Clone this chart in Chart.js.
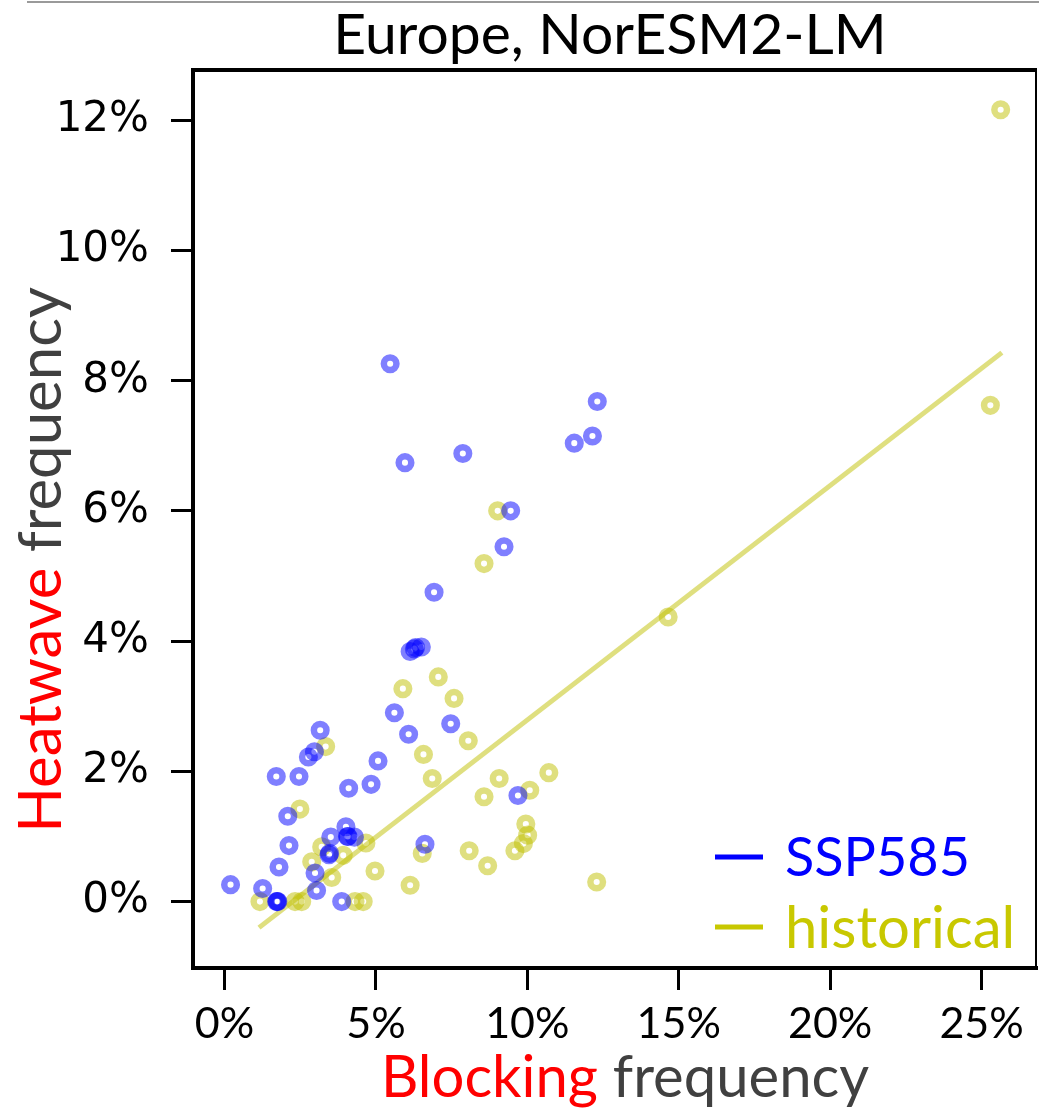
<!DOCTYPE html>
<html>
<head>
<meta charset="utf-8">
<script src="https://cdn.jsdelivr.net/npm/chart.js@4/dist/chart.umd.min.js"></script>
<style>
body { margin: 0; background: #fff; }
</style>
</head>
<body>
<canvas id="chart" width="1039" height="1113"></canvas>
<script>
// blocking frequency (%) against heatwave frequency (%), one point per summer
const ssp585X = [0.20, 1.26, 1.72, 1.74, 1.76, 1.80, 1.71, 2.09, 2.13, 2.46, 2.77, 2.97, 3.16, 2.99, 3.04,
	3.45, 3.47, 3.51, 3.87, 4.01, 4.10, 4.06, 4.08, 4.29, 4.84, 5.07, 5.61, 5.47, 6.08, 5.96, 6.13, 6.27, 6.31,
	6.50, 6.62, 6.92, 7.47, 7.87, 9.23, 9.45, 9.69, 11.55, 12.15, 12.31];
const ssp585Y = [0.26, 0.20, 0.00, 0.00, 0.00, 0.53, 1.92, 1.31, 0.86, 1.92, 2.22, 2.30, 2.63, 0.44, 0.17,
	0.72, 0.74, 0.99, 0.00, 1.15, 1.74, 1.00, 1.00, 0.99, 1.80, 2.16, 2.90, 8.26, 2.57, 6.74, 3.84, 3.88, 3.90,
	3.91, 0.88, 4.75, 2.73, 6.88, 5.45, 6.00, 1.63, 7.04, 7.15, 7.68];

const historicalX = [1.17, 2.33, 2.55, 2.49, 3.34, 2.88, 3.21, 3.54, 3.92, 4.67, 4.31, 4.58, 4.97, 5.89, 7.06,
	7.58, 6.57, 6.86, 8.05, 6.53, 6.13, 8.08, 8.57, 9.07, 10.08, 10.71, 9.95, 10.01, 9.87, 9.59, 8.69, 12.29,
	9.02, 8.57, 14.65, 25.29, 25.63];
const historicalY = [0.00, 0.00, 0.00, 1.42, 2.38, 0.61, 0.84, 0.37, 0.71, 0.90, 0.00, 0.00, 0.47, 3.27, 3.45,
	3.12, 2.26, 1.89, 2.47, 0.74, 0.25, 0.78, 1.61, 1.89, 1.71, 1.98, 1.19, 1.02, 0.89, 0.78, 0.55, 0.30,
	6.00, 5.19, 4.37, 7.62, 12.16];

// end points of the fitted line through the historical points
const fitX = [1.14, 25.67];
const fitY = [-0.40, 8.43];

const xTicks = [0, 5, 10, 15, 20, 25];
const yTicks = [0, 2, 4, 6, 8, 10, 12];

const blue = 'rgba(0, 0, 255, 0.5)';
const olive = 'rgba(191, 191, 0, 0.5)';

function toPoints(xs, ys) {
	return xs.map((x, i) => ({x: x, y: ys[i]}));
}

// draws the frame, title, axis titles and legend
const decorations = {
	id: 'decorations',
	beforeDraw(chart) {
		const ctx = chart.ctx;
		ctx.save();
		ctx.strokeStyle = '#9a9a9a';
		ctx.lineWidth = 2;
		ctx.beginPath();
		ctx.moveTo(27, 2);
		ctx.lineTo(1039, 2);
		ctx.stroke();
		ctx.restore();
	},
	afterDraw(chart) {
		const {ctx, chartArea: {left, top, right, bottom}} = chart;
		ctx.save();
		ctx.strokeStyle = '#000';
		ctx.lineWidth = 4;
		ctx.beginPath();
		ctx.moveTo(left - 2, top);
		ctx.lineTo(right, top);
		ctx.stroke();
		ctx.lineWidth = 2;
		ctx.beginPath();
		ctx.moveTo(right - 1, top);
		ctx.lineTo(right - 1, bottom);
		ctx.stroke();

		// title
		ctx.fillStyle = '#000';
		ctx.font = '57px Lato';
		ctx.textAlign = 'center';
		ctx.textBaseline = 'alphabetic';
		ctx.fillText('Europe, NorESM2-LM', 610, 54);

		// x axis title, two colours
		drawTwoTone(ctx, 'Blocking', ' frequency', 625, 1097, '58px Lato');

		// y axis title, rotated
		ctx.save();
		ctx.translate(61, 560);
		ctx.rotate(-Math.PI / 2);
		drawTwoTone(ctx, 'Heatwave', ' frequency', 0, 0, '60px Lato');
		ctx.restore();

		// legend
		const items = [
			{label: 'SSP585', color: '#0000ff', y: 857},
			{label: 'historical', color: '#c8c800', y: 927}
		];
		ctx.textAlign = 'left';
		ctx.textBaseline = 'middle';
		items.forEach(item => {
			ctx.strokeStyle = item.color;
			ctx.lineWidth = 5;
			ctx.beginPath();
			ctx.moveTo(715, item.y);
			ctx.lineTo(763, item.y);
			ctx.stroke();
			ctx.fillStyle = item.color;
			ctx.font = item.label == 'SSP585' ? '54px Lato' : '58px Lato';
			ctx.fillText(item.label, 785, item.y + 2);
		});
		ctx.restore();
	}
};

function drawTwoTone(ctx, first, second, cx, baseline, font) {
	ctx.font = font;
	ctx.textAlign = 'left';
	ctx.textBaseline = 'alphabetic';
	const w1 = ctx.measureText(first).width;
	const w2 = ctx.measureText(second).width;
	const x0 = cx - (w1 + w2) / 2;
	ctx.fillStyle = '#ff0000';
	ctx.fillText(first, x0, baseline);
	ctx.fillStyle = '#404040';
	ctx.fillText(second, x0 + w1, baseline);
}

const config = {
	type: 'scatter',
	data: {
		datasets: [
			{
				type: 'line',
				label: 'fit',
				data: toPoints(fitX, fitY),
				borderColor: olive,
				borderWidth: 5,
				pointRadius: 0,
				fill: false,
				order: 3
			},
			{
				label: 'historical',
				data: toPoints(historicalX, historicalY),
				borderColor: olive,
				backgroundColor: 'transparent',
				borderWidth: 6.5,
				pointRadius: 6.3,
				order: 2
			},
			{
				label: 'SSP585',
				data: toPoints(ssp585X, ssp585Y),
				borderColor: blue,
				backgroundColor: 'transparent',
				borderWidth: 6.5,
				pointRadius: 6.3,
				order: 1
			}
		]
	},
	options: {
		responsive: false,
		animation: false,
		layout: {
			autoPadding: false,
			padding: {top: 70, right: 2, left: 0, bottom: 0}
		},
		plugins: {
			legend: {display: false},
			tooltip: {enabled: false}
		},
		scales: {
			x: {
				type: 'linear',
				min: -1.04,
				max: 26.83,
				afterBuildTicks: scale => { scale.ticks = xTicks.map(v => ({value: v})); },
				afterFit: scale => {
					scale.height = 145;
					scale.paddingLeft = 0;
					scale.paddingRight = 0;
				},
				border: {display: true, color: '#000', width: 4},
				grid: {
					drawOnChartArea: false,
					drawTicks: true,
					tickLength: 22,
					tickWidth: 3,
					tickColor: '#000'
				},
				ticks: {
					color: '#000',
					padding: 8,
					maxRotation: 0,
					font: {family: 'Lato', size: 43},
					callback: value => value + '%'
				}
			},
			y: {
				type: 'linear',
				min: -1.02,
				max: 12.77,
				afterBuildTicks: scale => { scale.ticks = yTicks.map(v => ({value: v})); },
				afterFit: scale => {
					scale.width = 193;
					scale.paddingTop = 0;
					scale.paddingBottom = 0;
				},
				border: {display: true, color: '#000', width: 4},
				grid: {
					drawOnChartArea: false,
					drawTicks: true,
					tickLength: 22,
					tickWidth: 3,
					tickColor: '#000'
				},
				ticks: {
					color: '#000',
					padding: 22,
					font: {family: 'DejaVu Sans', size: 42},
					callback: value => value + '%'
				}
			}
		}
	},
	plugins: [decorations]
};

new Chart(document.getElementById('chart'), config);
</script>
</body>
</html>
